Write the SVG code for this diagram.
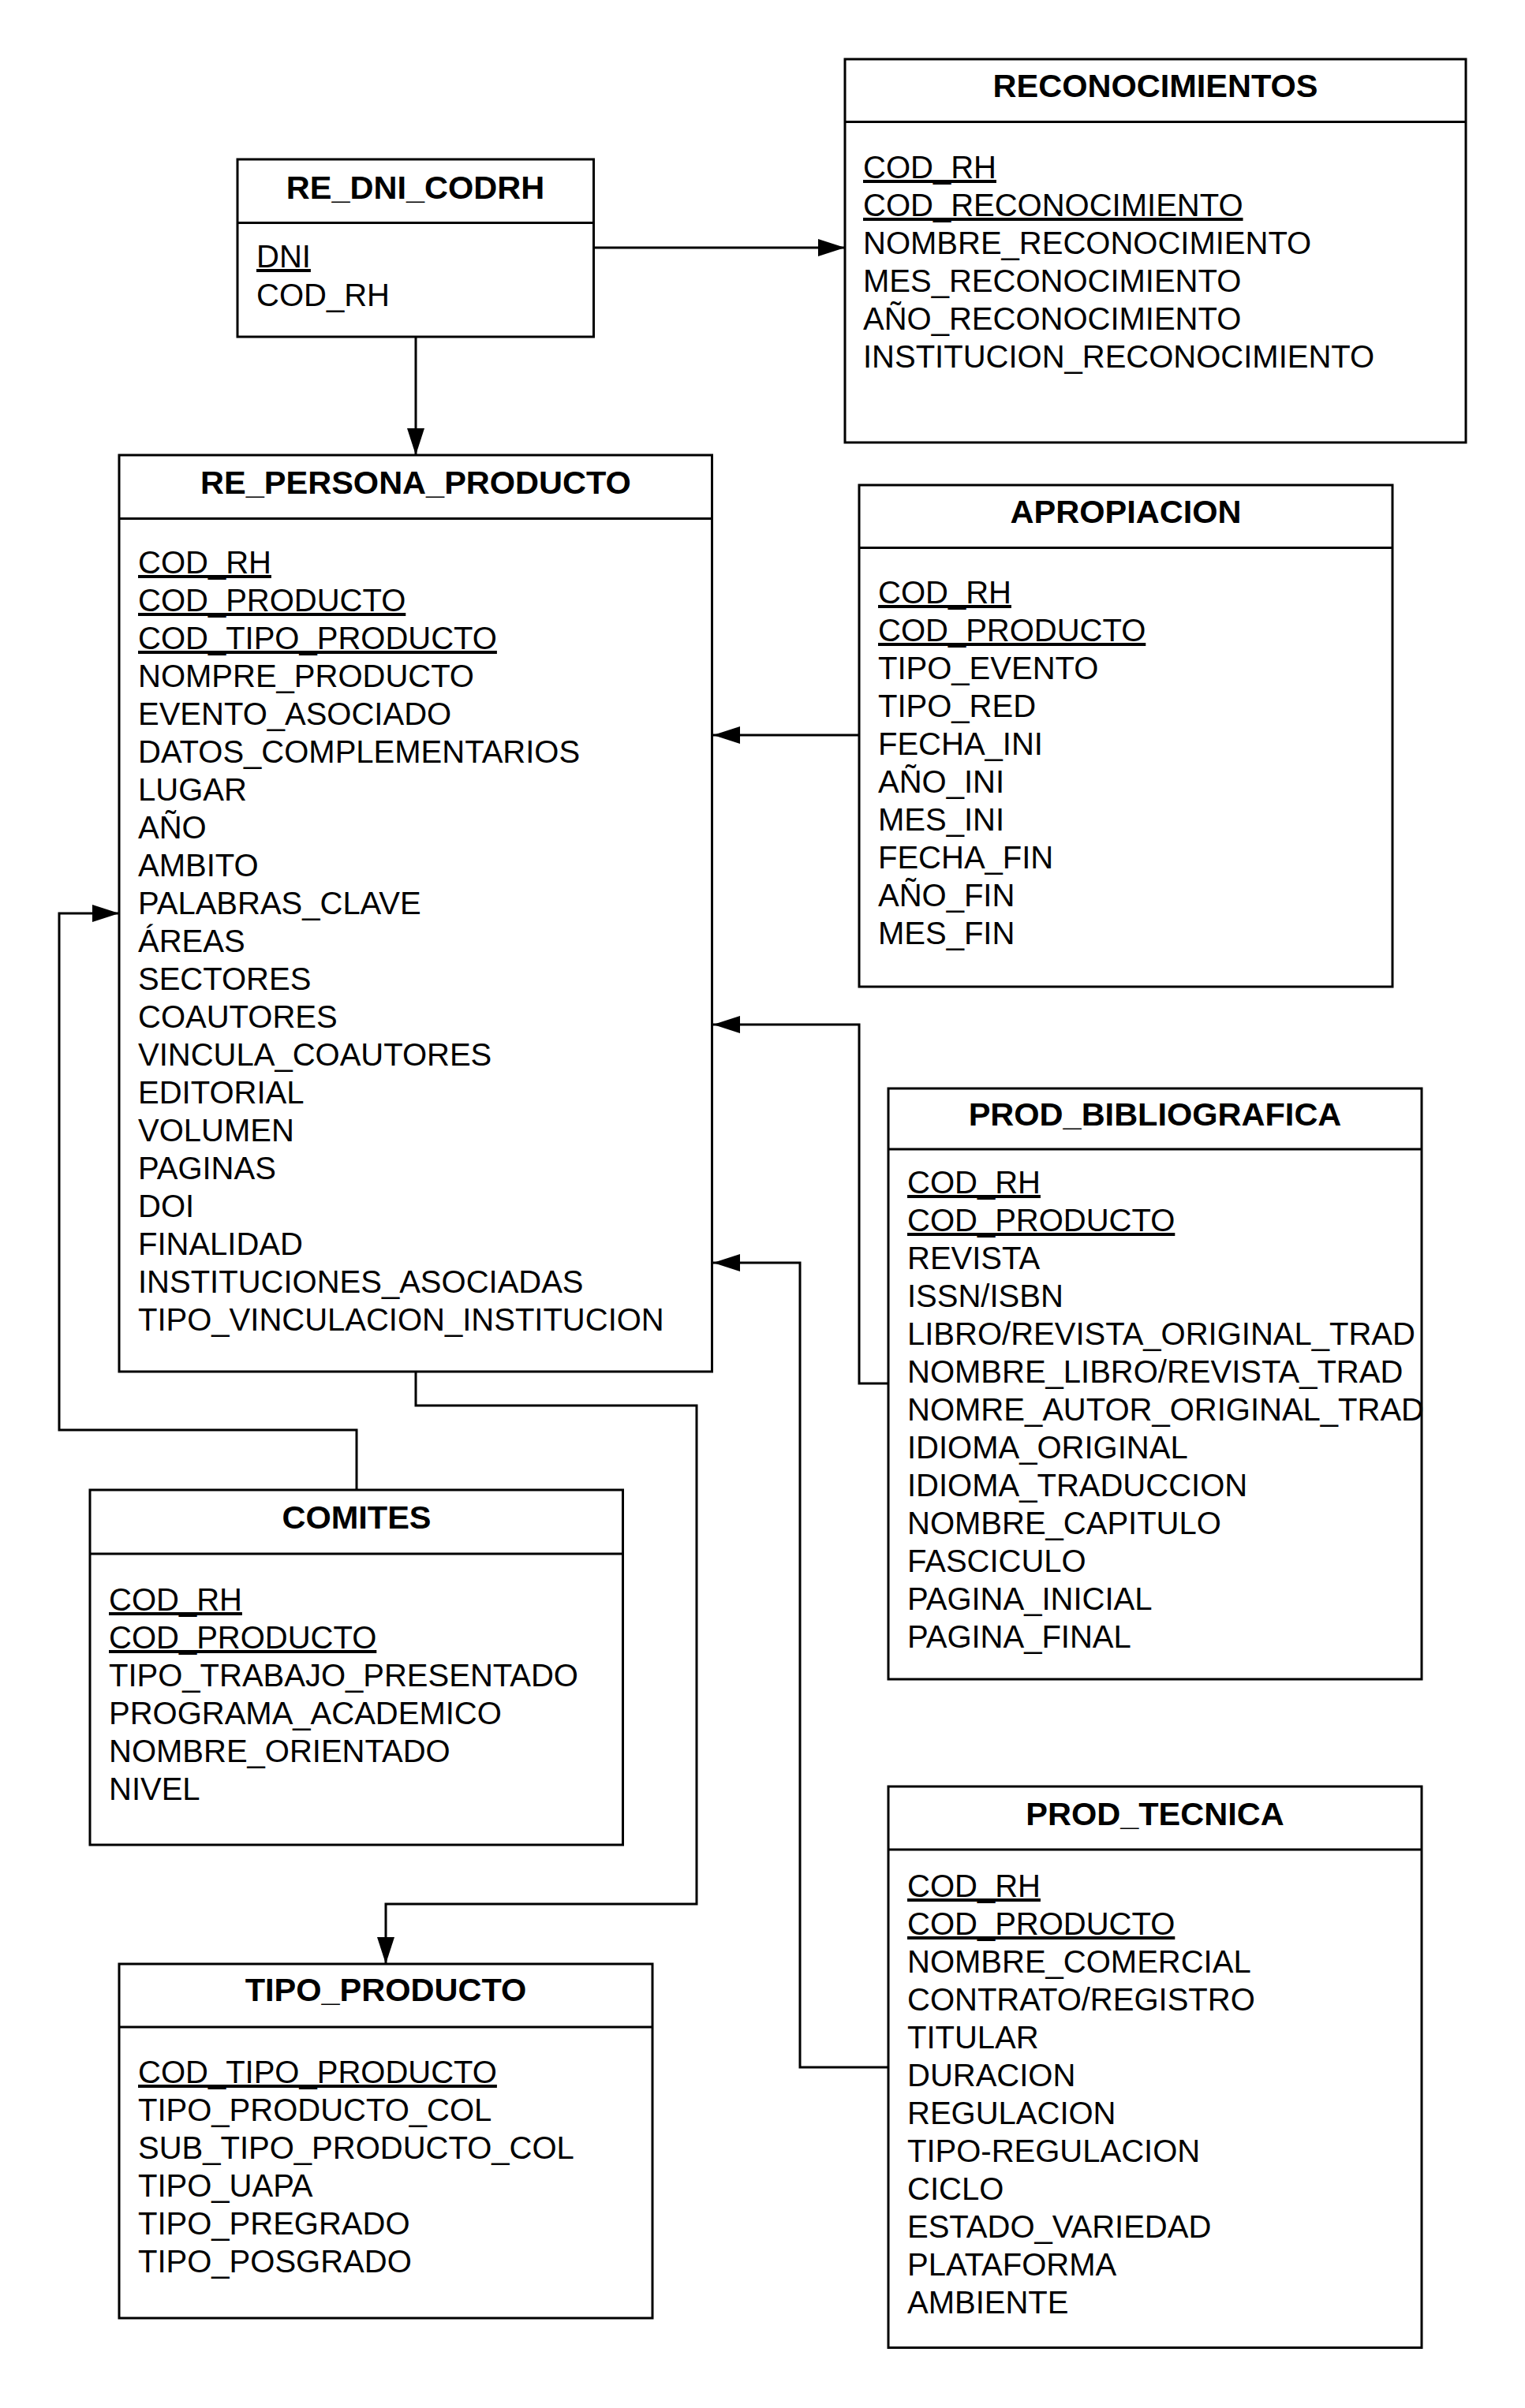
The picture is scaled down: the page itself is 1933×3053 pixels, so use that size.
<svg xmlns="http://www.w3.org/2000/svg" width="1933" height="3053" viewBox="0 0 1933 3053">
<defs>
<style>
.box{fill:#fff;stroke:#000;stroke-width:3}
.sep{stroke:#000;stroke-width:3}
.t{font-family:"Liberation Sans",Arial,sans-serif;font-size:41.5px;font-weight:bold;text-anchor:middle;fill:#000}
.f{font-family:"Liberation Sans",Arial,sans-serif;font-size:40px;fill:#000}
.k{text-decoration:underline}
.c{fill:none;stroke:#000;stroke-width:3}
</style>
<marker id="arr" markerUnits="userSpaceOnUse" markerWidth="34" markerHeight="22" refX="34" refY="11" orient="auto">
<path d="M0,0 L34,11 L0,22 z" fill="#000"/>
</marker>
</defs>
<rect width="1933" height="3053" fill="#fff"/>

<g id="connectors">
<path class="c" d="M752,314 H1071" marker-end="url(#arr)"/>
<path class="c" d="M527,427 V577" marker-end="url(#arr)"/>
<path class="c" d="M1089,932 H904" marker-end="url(#arr)"/>
<path class="c" d="M1126,1754 H1089 V1299 H904" marker-end="url(#arr)"/>
<path class="c" d="M1126,2621 H1014 V1601 H904" marker-end="url(#arr)"/>
<path class="c" d="M452,1889 V1813 H75 V1158 H151" marker-end="url(#arr)"/>
<path class="c" d="M527,1739 V1782 H883 V2414 H489 V2490" marker-end="url(#arr)"/>
</g>

<g id="RECONOCIMIENTOS">
<rect class="box" x="1071" y="75" width="787" height="486"/>
<line class="sep" x1="1071" y1="154.5" x2="1858" y2="154.5"/>
<text class="t" x="1464.5" y="123">RECONOCIMIENTOS</text>
<text class="f k" x="1094" y="226">COD_RH</text>
<text class="f k" x="1094" y="274">COD_RECONOCIMIENTO</text>
<text class="f" x="1094" y="322">NOMBRE_RECONOCIMIENTO</text>
<text class="f" x="1094" y="370">MES_RECONOCIMIENTO</text>
<text class="f" x="1094" y="418">AÑO_RECONOCIMIENTO</text>
<text class="f" x="1094" y="466">INSTITUCION_RECONOCIMIENTO</text>
</g>

<g id="RE_DNI_CODRH">
<rect class="box" x="301" y="202" width="451.5" height="225"/>
<line class="sep" x1="301" y1="282.5" x2="752.5" y2="282.5"/>
<text class="t" x="526.5" y="252">RE_DNI_CODRH</text>
<text class="f k" x="325" y="339">DNI</text>
<text class="f" x="325" y="388">COD_RH</text>
</g>

<g id="RE_PERSONA_PRODUCTO">
<rect class="box" x="151" y="577" width="751.5" height="1162"/>
<line class="sep" x1="151" y1="657.5" x2="902.5" y2="657.5"/>
<text class="t" x="527" y="626">RE_PERSONA_PRODUCTO</text>
<text class="f k" x="175" y="727">COD_RH</text>
<text class="f k" x="175" y="775">COD_PRODUCTO</text>
<text class="f k" x="175" y="823">COD_TIPO_PRODUCTO</text>
<text class="f" x="175" y="871">NOMPRE_PRODUCTO</text>
<text class="f" x="175" y="919">EVENTO_ASOCIADO</text>
<text class="f" x="175" y="967">DATOS_COMPLEMENTARIOS</text>
<text class="f" x="175" y="1015">LUGAR</text>
<text class="f" x="175" y="1063">AÑO</text>
<text class="f" x="175" y="1111">AMBITO</text>
<text class="f" x="175" y="1159">PALABRAS_CLAVE</text>
<text class="f" x="175" y="1207">ÁREAS</text>
<text class="f" x="175" y="1255">SECTORES</text>
<text class="f" x="175" y="1303">COAUTORES</text>
<text class="f" x="175" y="1351">VINCULA_COAUTORES</text>
<text class="f" x="175" y="1399">EDITORIAL</text>
<text class="f" x="175" y="1447">VOLUMEN</text>
<text class="f" x="175" y="1495">PAGINAS</text>
<text class="f" x="175" y="1543">DOI</text>
<text class="f" x="175" y="1591">FINALIDAD</text>
<text class="f" x="175" y="1639">INSTITUCIONES_ASOCIADAS</text>
<text class="f" x="175" y="1687">TIPO_VINCULACION_INSTITUCION</text>
</g>

<g id="APROPIACION">
<rect class="box" x="1089" y="615" width="676" height="636"/>
<line class="sep" x1="1089" y1="694.5" x2="1765" y2="694.5"/>
<text class="t" x="1427" y="663">APROPIACION</text>
<text class="f k" x="1113" y="765">COD_RH</text>
<text class="f k" x="1113" y="813">COD_PRODUCTO</text>
<text class="f" x="1113" y="861">TIPO_EVENTO</text>
<text class="f" x="1113" y="909">TIPO_RED</text>
<text class="f" x="1113" y="957">FECHA_INI</text>
<text class="f" x="1113" y="1005">AÑO_INI</text>
<text class="f" x="1113" y="1053">MES_INI</text>
<text class="f" x="1113" y="1101">FECHA_FIN</text>
<text class="f" x="1113" y="1149">AÑO_FIN</text>
<text class="f" x="1113" y="1197">MES_FIN</text>
</g>

<g id="PROD_BIBLIOGRAFICA">
<rect class="box" x="1126" y="1380" width="676" height="749"/>
<line class="sep" x1="1126" y1="1457" x2="1802" y2="1457"/>
<text class="t" x="1464" y="1427">PROD_BIBLIOGRAFICA</text>
<text class="f k" x="1150" y="1513">COD_RH</text>
<text class="f k" x="1150" y="1561">COD_PRODUCTO</text>
<text class="f" x="1150" y="1609">REVISTA</text>
<text class="f" x="1150" y="1657">ISSN/ISBN</text>
<text class="f" x="1150" y="1705">LIBRO/REVISTA_ORIGINAL_TRAD</text>
<text class="f" x="1150" y="1753">NOMBRE_LIBRO/REVISTA_TRAD</text>
<text class="f" x="1150" y="1801">NOMRE_AUTOR_ORIGINAL_TRAD</text>
<text class="f" x="1150" y="1849">IDIOMA_ORIGINAL</text>
<text class="f" x="1150" y="1897">IDIOMA_TRADUCCION</text>
<text class="f" x="1150" y="1945">NOMBRE_CAPITULO</text>
<text class="f" x="1150" y="1993">FASCICULO</text>
<text class="f" x="1150" y="2041">PAGINA_INICIAL</text>
<text class="f" x="1150" y="2089">PAGINA_FINAL</text>
</g>

<g id="COMITES">
<rect class="box" x="114" y="1889" width="675.5" height="450"/>
<line class="sep" x1="114" y1="1970" x2="789.5" y2="1970"/>
<text class="t" x="452" y="1937.5">COMITES</text>
<text class="f k" x="138" y="2042">COD_RH</text>
<text class="f k" x="138" y="2090">COD_PRODUCTO</text>
<text class="f" x="138" y="2138">TIPO_TRABAJO_PRESENTADO</text>
<text class="f" x="138" y="2186">PROGRAMA_ACADEMICO</text>
<text class="f" x="138" y="2234">NOMBRE_ORIENTADO</text>
<text class="f" x="138" y="2282">NIVEL</text>
</g>

<g id="PROD_TECNICA">
<rect class="box" x="1126" y="2265" width="676" height="711.5"/>
<line class="sep" x1="1126" y1="2345" x2="1802" y2="2345"/>
<text class="t" x="1464" y="2314">PROD_TECNICA</text>
<text class="f k" x="1150" y="2405">COD_RH</text>
<text class="f k" x="1150" y="2453">COD_PRODUCTO</text>
<text class="f" x="1150" y="2501">NOMBRE_COMERCIAL</text>
<text class="f" x="1150" y="2549">CONTRATO/REGISTRO</text>
<text class="f" x="1150" y="2597">TITULAR</text>
<text class="f" x="1150" y="2645">DURACION</text>
<text class="f" x="1150" y="2693">REGULACION</text>
<text class="f" x="1150" y="2741">TIPO-REGULACION</text>
<text class="f" x="1150" y="2789">CICLO</text>
<text class="f" x="1150" y="2837">ESTADO_VARIEDAD</text>
<text class="f" x="1150" y="2885">PLATAFORMA</text>
<text class="f" x="1150" y="2933">AMBIENTE</text>
</g>

<g id="TIPO_PRODUCTO">
<rect class="box" x="151" y="2490" width="676" height="449"/>
<line class="sep" x1="151" y1="2570" x2="827" y2="2570"/>
<text class="t" x="489" y="2537">TIPO_PRODUCTO</text>
<text class="f k" x="175" y="2641">COD_TIPO_PRODUCTO</text>
<text class="f" x="175" y="2689">TIPO_PRODUCTO_COL</text>
<text class="f" x="175" y="2737">SUB_TIPO_PRODUCTO_COL</text>
<text class="f" x="175" y="2785">TIPO_UAPA</text>
<text class="f" x="175" y="2833">TIPO_PREGRADO</text>
<text class="f" x="175" y="2881">TIPO_POSGRADO</text>
</g>
</svg>
